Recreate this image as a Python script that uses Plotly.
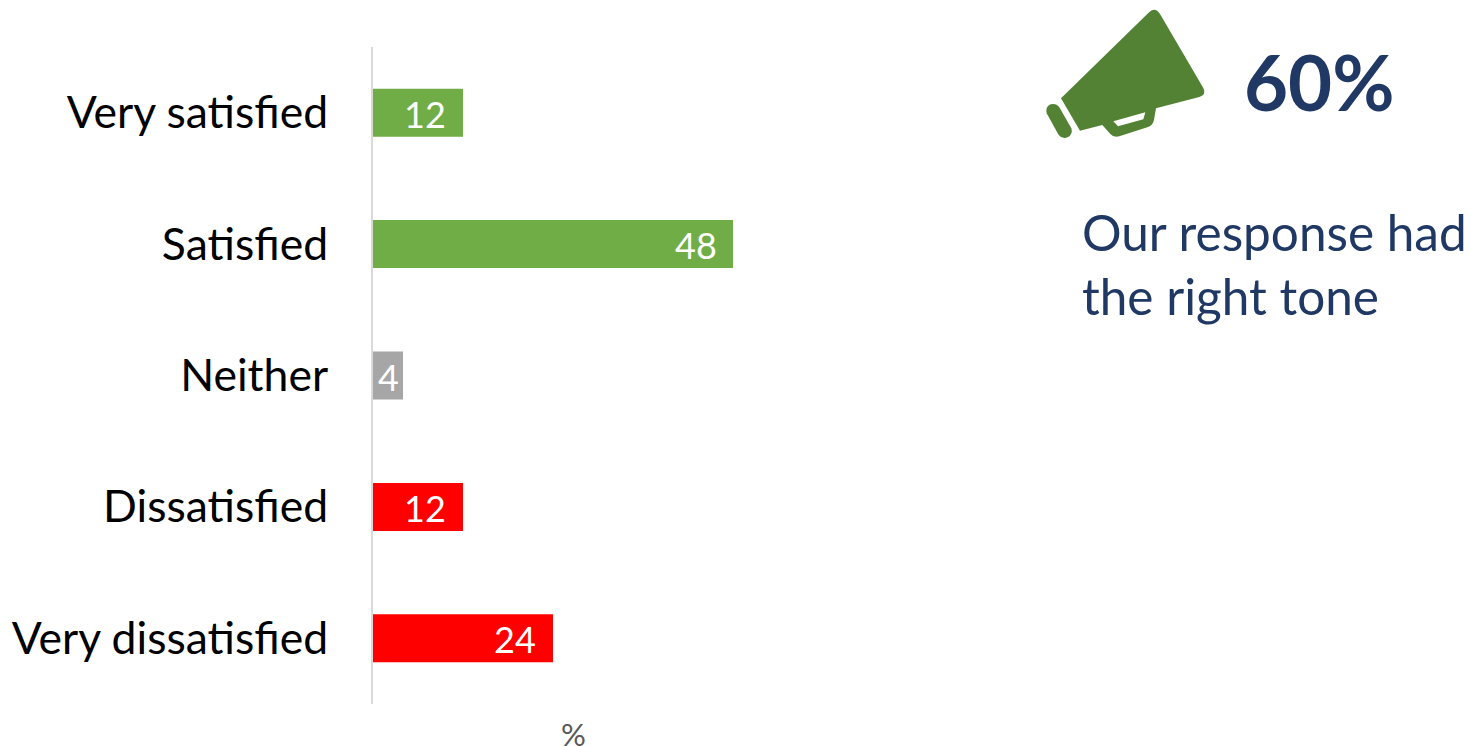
import plotly.graph_objects as go

categories = ["Very satisfied", "Satisfied", "Neither", "Dissatisfied", "Very dissatisfied"]
values = [12, 48, 4, 12, 24]
bar_colors = ["#70AD47", "#70AD47", "#A6A6A6", "#FF0000", "#FF0000"]
label_shift = [-15, -14, -2, -15, -15]
W, H = 1471, 746
FONT = "Lato"
NAVY = "#1F3864"
ICON = "#548235"


def px(x, y):
    return f"{x/W:.5f},{1-y/H:.5f}"


def zpath(cmds):
    out = []
    for c, *pts in cmds:
        out.append(c + " ".join(px(1030 + a / 3, b / 3).replace(",", " ") for a, b in pts))
    return " ".join(out)


horn = zpath([
    ("M", (93, 295)), ("L", (358, 36)), ("Q", (376, 20), (390, 42)), ("L", (520, 264)),
    ("Q", (530, 284), (508, 291)), ("L", (378, 325)), ("L", (372, 360)), ("Q", (368, 377), (352, 382)),
    ("L", (268, 409)), ("Q", (252, 414), (241, 402)), ("L", (217, 375)), ("L", (150, 392)), ("Z",),
    ("M", (250, 364)), ("L", (346, 337)), ("L", (340, 358)), ("L", (264, 379)), ("Z",),
])
pill = zpath([
    ("M", (50, 340)), ("Q", (45, 320), (62, 313)), ("Q", (78, 308), (88, 322)), ("L", (124, 385)),
    ("Q", (130, 403), (113, 412)), ("Q", (96, 418), (86, 405)), ("Z",),
])

fig = go.Figure(go.Bar(
    y=categories, x=values, orientation="h", marker=dict(color=bar_colors, line_width=0),
    hoverinfo="skip",
))
annotations = [
    dict(x=v, y=c, xref="x", yref="y", text=str(v), showarrow=False, xanchor="right", xshift=s, yshift=-1,
         font=dict(family=FONT, size=36, color="white"))
    for c, v, s in zip(categories, values, label_shift)
]
annotations += [
    dict(x=1242 / W, y=1 - 82 / H, xref="paper", yref="paper", text="<b>60%</b>", showarrow=False, xanchor="left",
         yanchor="middle", font=dict(family=FONT, size=76, color=NAVY)),
    dict(x=1080 / W, y=1 - 232 / H, xref="paper", yref="paper", text="Our response had", showarrow=False,
         xanchor="left", yanchor="middle", font=dict(family=FONT, size=49.5, color=NAVY)),
    dict(x=1080 / W, y=1 - 296 / H, xref="paper", yref="paper", text="the right tone", showarrow=False,
         xanchor="left", yanchor="middle", font=dict(family=FONT, size=49.5, color=NAVY)),
    dict(x=573 / W, y=1 - 734 / H, xref="paper", yref="paper", text="%", showarrow=False,
         xanchor="center", yanchor="middle", font=dict(family=FONT, size=31, color="#595959")),
]
fig.update_layout(
    width=W, height=H, margin=dict(l=0, r=0, t=0, b=0), paper_bgcolor="white", plot_bgcolor="white",
    showlegend=False, bargap=0.635, annotations=annotations,
    shapes=[
        dict(type="path", path=horn, xref="paper", yref="paper", fillcolor=ICON, line_width=0, fillrule="evenodd"),
        dict(type="path", path=pill, xref="paper", yref="paper", fillcolor=ICON, line_width=0),
    ],
    xaxis=dict(domain=[373 / W, 773 / W], range=[0, 53.33], showgrid=False, zeroline=False, showticklabels=False,
               ticks="", automargin=False),
    yaxis=dict(domain=[1 - 704 / H, 1 - 47 / H], autorange="reversed", showgrid=False, showline=True,
               linecolor="#D9D9D9", linewidth=2, ticks="", ticklabelstandoff=34, automargin=False,
               tickfont=dict(family=FONT, size=44.5, color="black")),
)
fig.write_html("out.html", config=dict(displayModeBar=False),
               post_script="document.body.style.margin='0';")
